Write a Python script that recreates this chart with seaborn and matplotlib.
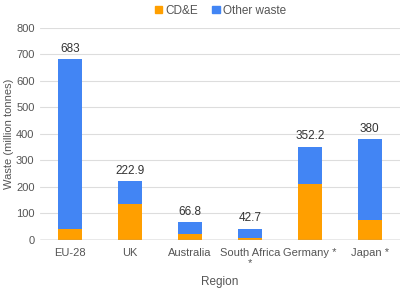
import seaborn as sns
import matplotlib.pyplot as plt
import pandas as pd
from matplotlib.patches import Patch

regions = ["EU-28", "UK", "Australia", "South Africa\n*", "Germany *", "Japan *"]
total_waste = [683, 222.9, 66.8, 42.7, 352.2, 380]
cde_waste = [40, 135, 21, 6, 210, 75]
total_labels = ["683", "222.9", "66.8", "42.7", "352.2", "380"]

df = pd.DataFrame({"Region": regions, "Total": total_waste, "CDE": cde_waste})

sns.set_style("white")
plt.rcParams["font.family"] = ["Liberation Sans", "DejaVu Sans"]

blue = "#4285F4"
orange = "#FF9F00"
grey = "#555555"

fig = plt.figure(figsize=(4.01, 2.88), dpi=100)
ax = fig.add_axes([0.10, 0.167, 0.897, 0.736])

# other waste stacked on top of CD&E -> draw total in blue, CD&E in front
sns.barplot(data=df, x="Region", y="Total", color=blue, width=0.39,
            saturation=1, linewidth=0, ax=ax, zorder=3)
sns.barplot(data=df, x="Region", y="CDE", color=orange, width=0.39,
            saturation=1, linewidth=0, ax=ax, zorder=3)

ax.bar_label(ax.containers[0], labels=total_labels, padding=3,
             fontsize=8.5, color="#333333")

ax.set_ylim(0, 800)
ax.set_xlim(-0.5, 5.5)
ax.set_yticks(range(0, 801, 100))
ax.grid(axis="y", color="#dddddd", linewidth=0.8, zorder=0)
ax.axhline(0, color="#999999", linewidth=1, zorder=4)
for s in ax.spines.values():
    s.set_visible(False)

ax.tick_params(axis="both", length=0, labelsize=8, labelcolor=grey, pad=4)
ax.tick_params(axis="x", pad=6)
for t in ax.get_xticklabels():
    t.set_linespacing(1.0)
ax.set_xlabel("Region", fontsize=8.5, color=grey)
ax.xaxis.set_label_coords(0.5, -0.17)
ax.set_ylabel("Waste (million tonnes)", fontsize=8, color=grey)
ax.yaxis.set_label_coords(-0.073, 0.5)

handles = [Patch(color=orange, label="CD&E"), Patch(color=blue, label="Other waste")]
fig.legend(handles=handles, loc="upper center", bbox_to_anchor=(0.55, 1.02),
           ncol=2, frameon=False, fontsize=8.5, handlelength=0.6,
           handleheight=0.6, handletextpad=0.3, columnspacing=1.2,
           labelcolor=grey)

fig.savefig("out.png", dpi=100)
